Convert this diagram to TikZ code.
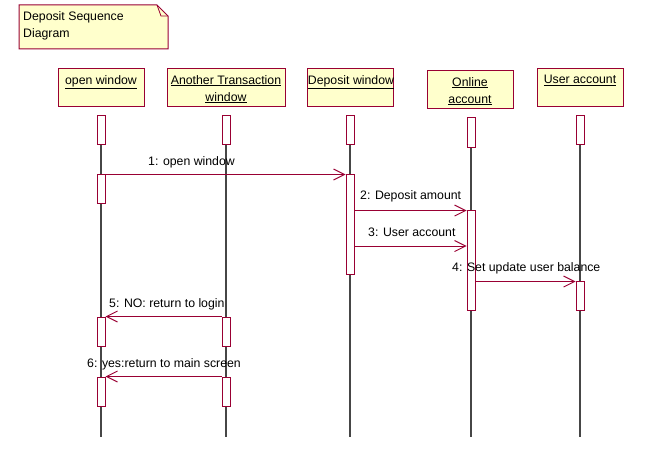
\documentclass[tikz,border=0pt]{standalone}
\usepackage{fontspec}
\setmainfont{Liberation Sans}
\usetikzlibrary{arrows.meta}
\definecolor{umlred}{RGB}{153,0,51}
\definecolor{umlfill}{RGB}{255,255,204}
\definecolor{lifegray}{RGB}{70,70,70}
\tikzset{
  objbox/.style={draw=umlred, fill=umlfill, line width=1pt, inner sep=0pt, minimum height=38pt},
  objtext/.style={anchor=north, inner sep=0pt, align=center, font=\fontsize{12.3}{17}\selectfont},
  act/.style={draw=umlred, fill=white, line width=1pt, inner sep=0pt, minimum width=8pt},
  life/.style={draw=lifegray, line width=1.2pt},
  msg/.style={draw=umlred, line width=0.9pt, -{Straight Barb[length=11pt,width=11pt]}},
  msglabel/.style={anchor=base west, inner sep=0pt, font=\fontsize{12.3}{15}\selectfont},
}
\begin{document}
\begin{tikzpicture}[x=1pt,y=-1pt]
            \useasboundingbox (0,0) rectangle (647,460);
            % note
            \draw[draw=umlred, fill=umlfill, line width=1pt] (19,5) -- (157,5) -- (168,16) -- (168,49) -- (19,49) -- cycle;
            \draw[draw=umlred, line width=0.8pt] (157,5) -- (161,16) -- (168,16);
            \node[anchor=north west, inner sep=0pt, align=left, font=\fontsize{12.3}{17}\selectfont] (title) at (23,11) {Deposit Sequence\\Diagram};
            % objects
            \node[objbox, minimum width=86pt] (ow) at (101,87) {};
            \node[objtext] (owt) at (101,75) {\underline{open window}};
            \node[objbox, minimum width=118pt] (at) at (226,87.5) {};
            \node[objtext] (att) at (226,75) {\underline{Another Transaction}\\\underline{window}};
            \node[objbox, minimum width=86pt] (dw) at (350,87.5) {};
            \node[objtext] (dwt) at (351,75) {\underline{Deposit window}};
            \node[objbox, minimum width=86pt] (oa) at (470,89) {};
            \node[objtext] (oat) at (470,77) {\underline{Online}\\\underline{account}};
            \node[objbox, minimum width=86pt] (ua) at (580,87.5) {};
            \node[objtext] (uat) at (580,75) {\underline{User account}};
            % lifelines
            \node[act, minimum height=29pt] (owtop) at (101,129.5) {};
            \node[act, minimum height=29pt] (attop) at (226,129.5) {};
            \node[act, minimum height=29pt] (dwtop) at (350,129.5) {};
            \node[act, minimum height=30pt] (oatop) at (471,132) {};
            \node[act, minimum height=29pt] (uatop) at (580,129.5) {};
            \coordinate (bottom) at (0,437);
            \draw[life] (owtop.south) -- (owtop.south |- bottom);
            \draw[life] (attop.south) -- (attop.south |- bottom);
            \draw[life] (dwtop.south) -- (dwtop.south |- bottom);
            \draw[life] (oatop.south) -- (oatop.south |- bottom);
            \draw[life] (uatop.south) -- (uatop.south |- bottom);
            % activations
            \node[act, minimum height=29pt] (owact1) at (101,188.5) {};
            \node[act, minimum height=100pt] (dwact) at (350,224) {};
            \node[act, minimum height=100pt] (oaact) at (471,260) {};
            \node[act, minimum height=29pt] (uaact) at (580,295.5) {};
            \node[act, minimum height=29pt] (owact2) at (101,331.5) {};
            \node[act, minimum height=29pt] (atact2) at (226,331.5) {};
            \node[act, minimum height=29pt] (owact3) at (101,391.5) {};
            \node[act, minimum height=29pt] (atact3) at (226,391.5) {};
            % messages
            \coordinate (m3) at (0,246);
            \draw[msg] ([yshift=-1pt]owact1.north east) -- ([yshift=-1pt]dwact.north west);
            \draw[msg] ([yshift=-1pt]dwact.east |- oaact.north) -- ([yshift=-1pt]oaact.north west);
            \draw[msg] (dwact.east |- m3) -- (oaact.west |- m3);
            \draw[msg] ([yshift=-1pt]oaact.east |- uaact.north) -- ([yshift=-1pt]uaact.north west);
            \draw[msg] (atact2.north west) -- (owact2.north east);
            \draw[msg] (atact3.north west) -- (owact3.north east);
            \node[msglabel] (l1) at (148,165) {1: open window};
            \node[msglabel] (l2) at (360,199) {2: Deposit amount};
            \node[msglabel] (l3) at (368,236) {3: User account};
            \node[msglabel] (l4) at (452,271) {4: Set update user balance};
            \node[msglabel] (l5) at (109,307) {5: NO: return to login};
            \node[msglabel] (l6) at (87,367) {6: yes:return to main screen};
        \end{tikzpicture}
\end{document}
